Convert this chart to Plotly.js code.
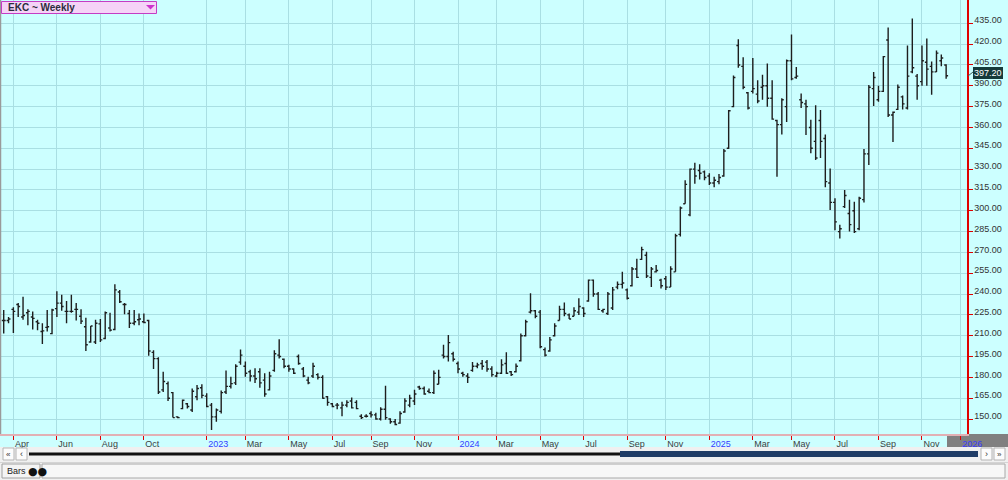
<!DOCTYPE html>
<html><head><meta charset="utf-8">
<script src="https://cdn.plot.ly/plotly-3.0.1.min.js"></script>
<style>html,body{margin:0;padding:0;background:#f0f0f0;}#chart{width:1008px;height:480px;}</style>
</head><body><div id="chart"></div>
<script>
// ---- DATA (weekly bars, EKC) ----
const dates = [
'2022-03-18','2022-03-25','2022-04-01','2022-04-08','2022-04-15','2022-04-22','2022-04-29','2022-05-06','2022-05-13','2022-05-20','2022-05-27','2022-06-03','2022-06-10','2022-06-17','2022-06-24','2022-07-01','2022-07-08','2022-07-15','2022-07-22','2022-07-29','2022-08-05','2022-08-12','2022-08-19','2022-08-26','2022-09-02','2022-09-09','2022-09-16','2022-09-23','2022-09-30','2022-10-07','2022-10-14','2022-10-21','2022-10-28','2022-11-04','2022-11-11','2022-11-18','2022-11-25','2022-12-02','2022-12-09','2022-12-16','2022-12-23','2022-12-30',
'2023-01-06','2023-01-13','2023-01-20','2023-01-27','2023-02-03','2023-02-10','2023-02-17','2023-02-24','2023-03-03','2023-03-10','2023-03-17','2023-03-24','2023-03-31','2023-04-07','2023-04-14','2023-04-21','2023-04-28','2023-05-05','2023-05-12','2023-05-19','2023-05-26','2023-06-02','2023-06-09','2023-06-16','2023-06-23','2023-06-30','2023-07-07','2023-07-14','2023-07-21','2023-07-28','2023-08-04','2023-08-11','2023-08-18','2023-08-25','2023-09-01','2023-09-08','2023-09-15','2023-09-22','2023-09-29','2023-10-06','2023-10-13','2023-10-20','2023-10-27','2023-11-03','2023-11-10','2023-11-17','2023-11-24','2023-12-01','2023-12-08','2023-12-15','2023-12-22','2023-12-29',
'2024-01-05','2024-01-12','2024-01-19','2024-01-26','2024-02-02','2024-02-09','2024-02-16','2024-02-23','2024-03-01','2024-03-08','2024-03-15','2024-03-22','2024-03-29','2024-04-05','2024-04-12','2024-04-19','2024-04-26','2024-05-03','2024-05-10','2024-05-17','2024-05-24','2024-05-31','2024-06-07','2024-06-14','2024-06-21','2024-06-28','2024-07-05','2024-07-12','2024-07-19','2024-07-26','2024-08-02','2024-08-09','2024-08-16','2024-08-23','2024-08-30','2024-09-06','2024-09-13','2024-09-20','2024-09-27','2024-10-04','2024-10-11','2024-10-18','2024-10-25','2024-11-01','2024-11-08','2024-11-15','2024-11-22','2024-11-29','2024-12-06','2024-12-13','2024-12-20','2024-12-27',
'2025-01-03','2025-01-10','2025-01-17','2025-01-24','2025-01-31','2025-02-07','2025-02-14','2025-02-21','2025-02-28','2025-03-07','2025-03-14','2025-03-21','2025-03-28','2025-04-04','2025-04-11','2025-04-18','2025-04-25','2025-05-02','2025-05-09','2025-05-16','2025-05-23','2025-05-30','2025-06-06','2025-06-13','2025-06-20','2025-06-27','2025-07-04','2025-07-11','2025-07-18','2025-07-25','2025-08-01','2025-08-08','2025-08-15','2025-08-22','2025-08-29','2025-09-05','2025-09-12','2025-09-19','2025-09-26','2025-10-03','2025-10-10','2025-10-17','2025-10-24','2025-10-31','2025-11-07','2025-11-14','2025-11-21','2025-11-28','2025-12-05','2025-12-12'
];
const openV = [
221,221,229,232.5,223.5,226.5,223.5,220,213,216,
211.5,229.5,233.5,227.5,227.5,229,224,216.5,205.5,205.5,
218.5,208,215.5,214.5,241.5,232.5,226,219,221.5,220,
221,198,193.5,171,175.5,169,151.5,157.5,161,156.5,
166,172.5,166.5,160,151.5,155.5,169.5,173.5,176,191,
188,184,181,184,178,171,185,196,193,188,
186,195,186,178,181,182,180,166,161,160,
158,160,163,162,152,152,154,153,150,157,
150,148,147,155,160,163,173,172,170,169,
175,196,195,197,190,183,181,185,188,190,
191,186,181,183,190,184,184,192,210,227,
228,227,200,199,210,221,229,225,224,227,
230,235,250,240,228,226,230,245,247,243,
246,258,265,268,252,256,250,251,245,256,
283,305,297,330,329,328,325,320,321,325,
345,375,419,404,385,386,384,389,390,381,
365,362,375,408,396,380,377,360,350,365,
352,320,306,285,303,298,300,287,308,341,
388,380,386,423,369,373,382,374,400,397,
393,407,404,400,408,405
];
const highV = [
228.5,223.5,230.5,233.5,238,229,227.5,221.5,219,228.5,
229.5,242,239.5,235,239.5,233.5,229,223,217,221.5,
222,227.5,226.5,247,243,233.5,228.5,228.5,226,226,
221.5,199.5,194.5,184,177,169.5,152,164,161.5,172,
174.5,175,168.5,161.5,157.5,170.5,185,180.5,189.5,200,
191.5,185.5,186.5,186.5,183,184,199.5,207.5,193.5,189,
186.5,196.5,187.5,180.5,190.5,183,181.5,166.5,161.5,161.5,
162.5,163.5,165.5,163.5,153.5,153.5,155.5,154.5,158.5,174,
150.5,150,155.5,165,167.5,171,174,173.5,172,185,
185.5,203.5,210.5,198.5,191.5,184,183,191,190.5,192.5,
192.5,188,184,193,198,184.5,190,211.5,221.5,240.5,
228.5,228.5,201.5,209,219,231.5,234,226,230.5,237,
230.5,250.5,250.5,241.5,229.5,241.5,245,249,256,244,
259.5,265.5,274,270.5,259.5,261,251,253,260,283.5,
303,322,330.5,334.5,333.5,329,327,324.5,326.5,344.5,
372.5,397.5,423.5,410.5,385.5,410,394,398,406,394,
365.5,381,409,427,403.5,384.5,380,365.5,376,372.5,
355,330.5,309,290,315,308,306.5,310,344.5,390.5,
400,390,411.5,432,371.5,391,383,419,438.5,398.5,
419,424,407.5,415.5,412.5,405.5
];
const lowV = [
211.5,219,212,223.5,221.5,217.5,214.5,214,204,213,
211,223.5,228,219,226.5,221,218.5,199,205,204,
205.5,207.5,213,214,233.5,225.5,215.5,217.5,217.5,219,
195.5,186,168,169.5,163,151,150.5,157,157.5,155,
163.5,165,158.5,142,148,154,168,172,174.5,189,
180.5,177,176,172.5,166,170.5,184,193.5,186.5,184,
182.5,189,180,175,179.5,178.5,164.5,159.5,158.5,157,
152,158.5,157.5,157,150,151,151,149.5,149,149.5,
146.5,145.5,146.5,154.5,158.5,160,171,167.5,168.5,168,
175,193.5,191.5,191.5,183,180.5,176,184,186.5,185.5,
184,180.5,180,182.5,182.5,181,183.5,191.5,209.5,226,
222.5,201,195,198.5,209.5,221,224,222,224,225,
223.5,234.5,238,228.5,226.5,225,228.5,243.5,244,236,
245.5,251.5,264.5,251.5,245,255.5,244,243,245,256,
281.5,305,296,319.5,322.5,322,318.5,317,319,324.5,
344.5,374.5,403,387.5,373,384.5,377.5,380,375,365.5,
324.5,355,364,394,395,374,354.5,341.5,336.5,338,
317,300.5,286,280,302,285,284,286,306,333,
375.5,378.5,385.5,367.5,349.5,372.5,373,373,399,380,
390,390,383.5,400,404,395
];
const closeV = [
221,222,227.5,231,224.5,227.5,222.5,219,213.5,216.5,
228.5,233.5,231,227.5,227.5,229,220.5,203.5,217,219,
207,226.5,214,243,234.5,232.5,219,220,222,219.5,
199,193.5,169.5,177,165,151,151,163.5,159,170,
172,167,159,151.5,156.5,169,173.5,175.5,188,196,
183,181,179,176,168,181,197,195,188,186,
183,190,181,176,188,180,165,162,159,160,
160,162,158,157.5,151,152,153,150,157,151,
148,146,154,163,165,168,172,168,169,183,
180,195,205,193,186,182,180,188,189,188,
186,182,183,189,183,182,188,210,220,228,
224,202,196,207,217,229,226,222,228,231,
226,250,240,229,229,240,243,247,248,237,
258,252,272,253,258,257,246,245,258,282,
302,319,330,325,327,324,320,322,324,343,
372,396,405,389,374,388,379,390,381,366,
362,380,408,395,397,378,375,345,338,350,
321,306,292,287,311,290,285,309,341,389,
396,386,411,369,371,389,377,397,403,390,
408,402,400,413.5,410,397.2
];
const tickDates = ['2022-04-01','2022-06-03','2022-08-05','2022-10-07','2023-01-06','2023-03-03','2023-05-05','2023-07-07','2023-09-01','2023-11-03','2024-01-05','2024-03-01','2024-05-03','2024-07-05','2024-09-06','2024-11-01','2025-01-03','2025-03-07','2025-05-02','2025-07-04','2025-09-05','2025-11-07','2026-01-02'];
const tickLabels = ['Apr','Jun','Aug','Oct','2023','Mar','May','Jul','Sep','Nov','2024','Mar','May','Jul','Sep','Nov','2025','Mar','May','Jul','Sep','Nov','2026'];
const priceTicks = [150,165,180,195,210,225,240,255,270,285,300,315,330,345,360,375,390,405,420,435];
const symbolTitle = 'EKC ~ Weekly';
const lastPrice = closeV[closeV.length - 1];

// ---- LAYOUT HELPERS (pixel -> paper) ----
const PR = 967, PBOT = 434;
const px = x => x / PR;
const py = y => (PBOT - y) / PBOT;
const rect = (x0, y0, x1, y1, fill, line, lw, layer) => ({type:'rect', xref:'paper', yref:'paper',
  x0:px(x0), x1:px(x1), y0:py(y1), y1:py(y0), fillcolor:fill, line:{color:line||fill, width:lw===undefined?0:lw}, layer:layer||'above'});
const label = (x, y, text, opts) => Object.assign({xref:'paper', yref:'paper', x:px(x), y:py(y), text:text,
  showarrow:false, xanchor:'center', yanchor:'middle', font:{family:'Liberation Sans, Arial, sans-serif', size:9, color:'#222'}}, opts||{});

const tickText = tickLabels.map(t => /^\d{4}$/.test(t) ? '<span style="color:#3a3aff">' + t + '</span>' : t);

const shapes = [
  rect(0, 447, 1008, 480, '#f0f0f0', null, 0, 'below'),
  rect(947, 434, 1008, 447, '#808080', null, 0, 'below'),
  {type:'line', xref:'paper', yref:'paper', x0:px(0.5), x1:px(0.5), y0:0, y1:1, line:{color:'#9a9a9a', width:1.5}},
  rect(29, 452.5, 620, 455.5, '#111111'),
  rect(620, 451, 978, 457, '#1f3c66'),
  rect(3, 448, 14, 460, '#fcfcfc', '#b4b4b4', 1),
  rect(16, 448, 27, 460, '#fcfcfc', '#b4b4b4', 1),
  rect(981, 448, 992, 460, '#fcfcfc', '#b4b4b4', 1),
  rect(994, 448, 1005, 460, '#fcfcfc', '#b4b4b4', 1),
  {type:'line', xref:'paper', yref:'paper', x0:px(0), x1:px(1008), y0:py(462.5), y1:py(462.5), line:{color:'#d4d4d4', width:1}},
  rect(2, 464, 40, 478, '#f4f4f4', '#a0a0a0', 1),
  rect(42, 464, 1005, 478, '#f7f7f7', '#a8a8a8', 1),
  rect(1.5, 1.5, 156.5, 13.5, '#f5d3f7', '#c43cc4', 1),
  {type:'path', xref:'paper', yref:'paper', path:'M '+px(146)+','+py(5)+' L '+px(155)+','+py(5)+' L '+px(150.5)+','+py(9.5)+' Z', fillcolor:'#cc33cc', line:{width:0}},
  {type:'line', xref:'paper', yref:'paper', x0:px(968), x1:px(973), y0:py(76), y1:py(72), line:{color:'#3a5a5a', width:1}}
];

const annotations = [
  label(6, 7.8, '<b>' + symbolTitle + '</b>', {xanchor:'left', font:{family:'Liberation Sans, Arial, sans-serif', size:10, color:'#2c2c3c'}}),
  {xref:'paper', yref:'y', x:px(973), y:lastPrice, yshift:3, text:lastPrice.toFixed(2), showarrow:false, xanchor:'left', yanchor:'middle',
   bgcolor:'#163a3a', bordercolor:'#163a3a', borderpad:0, font:{family:'Liberation Sans, Arial, sans-serif', size:9, color:'#ffffff'}},
  label(8.5, 454, '«', {font:{size:8, color:'#333'}}),
  label(21.5, 454, '‹', {font:{size:9, color:'#333'}}),
  label(986.5, 454, '›', {font:{size:9, color:'#333'}}),
  label(999.5, 454, '»', {font:{size:8, color:'#333'}}),
  label(5, 471, 'Bars', {xanchor:'left', font:{family:'Liberation Sans, Arial, sans-serif', size:9, color:'#222'}}),
  label(25.5, 471, '●●', {xanchor:'left', font:{family:'DejaVu Sans, sans-serif', size:11, color:'#111'}})
];

const trace = {
  type:'ohlc', x:dates, open:openV, high:highV, low:lowV, close:closeV,
  increasing:{line:{color:'#1e1e1e', width:1.4}},
  decreasing:{line:{color:'#1e1e1e', width:1.4}},
  tickwidth:0.4, hoverinfo:'skip', showlegend:false
};

const layout = {
  width:1008, height:480,
  margin:{l:0, r:41, t:0, b:46, pad:0},
  paper_bgcolor:'#ccffff', plot_bgcolor:'#ccffff',
  showlegend:false,
  font:{family:'Liberation Sans, Arial, sans-serif', size:9, color:'#333'},
  xaxis:{type:'date', range:['2022-03-12 15:00','2026-01-11 05:00'], rangeslider:{visible:false},
    tickmode:'array', tickvals:tickDates, ticktext:tickText,
    ticks:'outside', ticklen:4, tickcolor:'#e00000', tickwidth:1,
    ticklabelposition:'outside right',
    showgrid:true, gridcolor:'#a9dfe3', gridwidth:1,
    showline:true, linecolor:'#e2b0b4', linewidth:2, zeroline:false,
    tickfont:{family:'Liberation Sans, Arial, sans-serif', size:9, color:'#404040'}, fixedrange:true},
  yaxis:{side:'right', range:[139.2, 451.8], tickmode:'array', tickvals:priceTicks,
    ticktext:priceTicks.map(v => v.toFixed(2)),
    ticks:'outside', ticklen:4, tickcolor:'#e00000', tickwidth:1, ticklabelshift:-3,
    showline:true, linecolor:'#e00000', linewidth:1.5,
    showgrid:true, gridcolor:'#a9dfe3', gridwidth:1, zeroline:false,
    tickfont:{family:'Liberation Sans, Arial, sans-serif', size:9, color:'#333'}, fixedrange:true},
  shapes:shapes, annotations:annotations
};

Plotly.newPlot('chart', [trace], layout, {displayModeBar:false, staticPlot:true});
</script>
</body></html>
